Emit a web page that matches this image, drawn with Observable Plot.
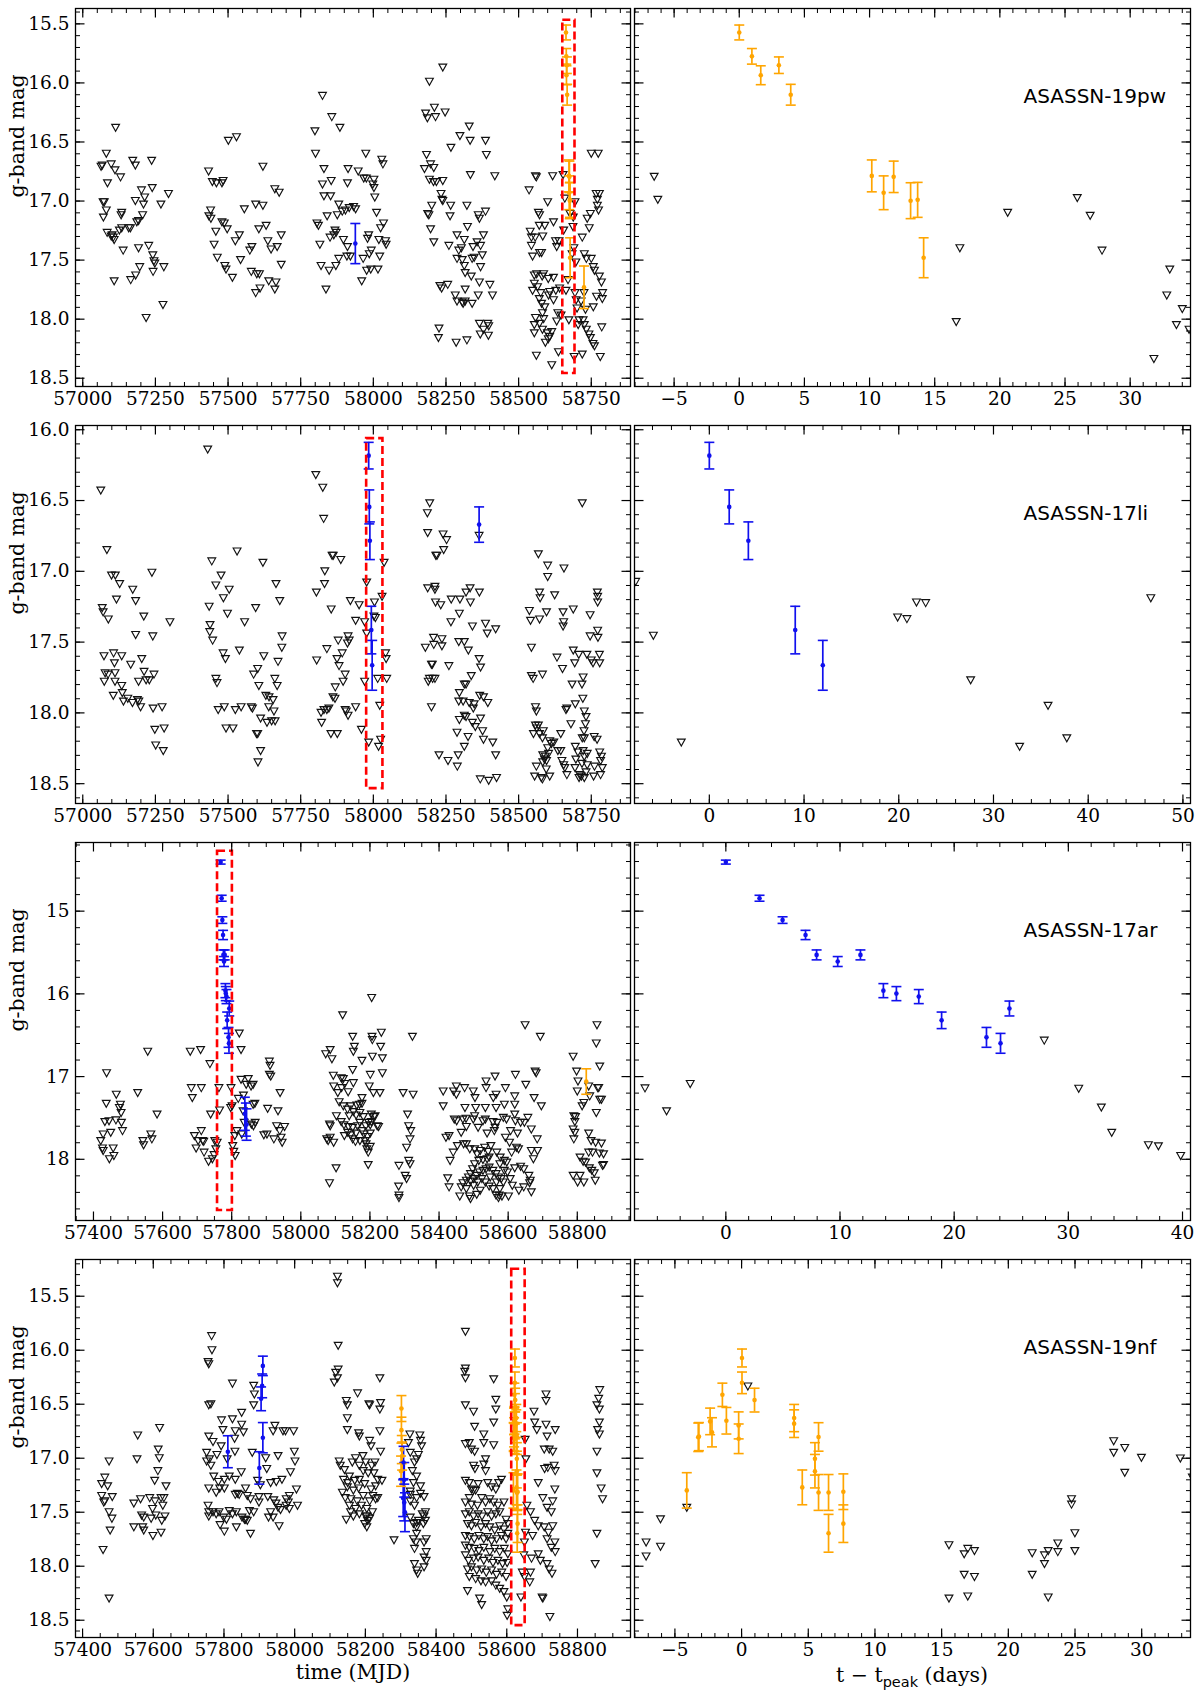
<!DOCTYPE html>
<html><head><meta charset="utf-8">
<script src="https://cdn.jsdelivr.net/npm/d3@7"></script>
<script src="https://cdn.jsdelivr.net/npm/@observablehq/plot@0.6"></script>
<style>
body{margin:0;background:#fff;}
#wrap{position:relative;width:1201px;height:1697px;background:#fff;}
#wrap svg{position:absolute;overflow:visible;}
</style></head><body><div id="wrap"></div>
<script>
// ---------------- DATA ----------------
// ASASSN-19pw
const tpeak19pw = 58663;
const lim19pw = [[57067,16.70],[57063,16.71],[57081,16.60],[57098,16.69],[57085,16.85],[57113,16.38],[57111,16.74],[57130,16.80],[57070,17.01],[57074,17.01],[57081,17.08],[57071,17.14],[57084,17.27],[57101,17.29],[57105,17.31],[57108,17.33],[57098,17.30],[57134,17.10],[57132,17.12],[57126,17.25],[57134,17.23],[57139,17.42],[57158,17.23],[57164,17.23],[57172,16.66],[57181,16.70],[57181,17.00],[57186,17.18],[57192,17.17],[57206,17.12],[57202,16.91],[57213,16.97],[57209,17.03],[57237,16.66],[57239,16.89],[57192,17.40],[57196,17.56],[57227,17.38],[57241,17.46],[57245,17.51],[57248,17.53],[57242,17.60],[57279,17.56],[57295,16.94],[57269,17.03],[57165,17.67],[57182,17.63],[57108,17.68],[57276,17.88],[57218,17.99],
[57433,16.75],[57501,16.49],[57529,16.46],[57446,16.84],[57460,16.85],[57479,16.85],[57483,16.83],[57440,17.08],[57434,17.13],[57441,17.15],[57479,17.18],[57487,17.19],[57458,17.26],[57497,17.24],[57452,17.37],[57463,17.48],[57489,17.55],[57493,17.58],[57515,17.65],[57525,17.34],[57539,17.29],[57556,17.07],[57543,17.50],[57582,17.39],[57575,17.42],[57595,17.03],[57620,17.04],[57620,16.71],[57606,17.24],[57631,17.21],[57637,17.34],[57648,17.41],[57661,16.90],[57676,16.93],[57669,17.39],[57683,17.29],[57683,17.54],[57580,17.60],[57599,17.62],[57608,17.62],[57610,17.74],[57595,17.78],[57640,17.68],[57661,17.75],[57665,17.69],
[57825,16.11],[57857,16.29],[57885,16.38],[57799,16.41],[57801,16.60],[57830,16.73],[57825,16.86],[57855,16.83],[57830,16.96],[57853,16.96],[57913,16.73],[57911,16.85],[57948,16.75],[57974,16.60],[57967,16.81],[57976,16.81],[58002,16.82],[57998,16.86],[58002,16.89],[58005,16.97],[58029,16.65],[58033,16.69],[57881,17.03],[57876,17.12],[57893,17.09],[57904,17.08],[57917,17.06],[57932,17.05],[57939,17.07],[57806,17.19],[57811,17.21],[57841,17.13],[57872,17.27],[57868,17.25],[57864,17.29],[57851,17.31],[57816,17.37],[57897,17.33],[57911,17.39],[57909,17.47],[57921,17.47],[57881,17.49],[57871,17.55],[57820,17.55],[57848,17.59],[57837,17.75],[57965,17.49],[57984,17.29],[57980,17.32],[57986,17.45],[57993,17.42],[57977,17.59],[57991,17.58],[58016,17.58],[58022,17.47],[57960,17.68],[58011,17.10],[58035,17.19],[58042,17.34],[58044,17.37],[58025,17.23],[58019,17.33],
[58239,15.87],[58193,15.99],[58210,16.21],[58180,16.26],[58186,16.30],[58214,16.29],[58247,16.25],[58330,16.37],[58298,16.45],[58333,16.49],[58386,16.49],[58389,16.61],[58267,16.55],[58183,16.61],[58197,16.69],[58208,16.72],[58176,16.73],[58193,16.82],[58207,16.84],[58217,16.84],[58239,16.83],[58334,16.78],[58418,16.79],[58233,16.94],[58236,16.99],[58239,17.00],[58266,17.04],[58322,17.04],[58201,17.04],[58187,17.11],[58191,17.12],[58386,17.09],[58361,17.12],[58365,17.15],[58264,17.13],[58197,17.24],[58324,17.22],[58208,17.35],[58260,17.38],[58288,17.29],[58313,17.33],[58294,17.42],[58303,17.40],[58343,17.39],[58357,17.35],[58369,17.38],[58375,17.46],[58379,17.29],[58340,17.49],[58347,17.48],[58288,17.49],[58306,17.50],[58313,17.55],[58369,17.56],[58316,17.61],[58337,17.64],[58365,17.69],[58229,17.72],[58235,17.74],[58256,17.71],[58401,17.71],[58316,17.75],[58282,17.80],[58361,17.80],[58410,17.80],[58288,17.85],[58306,17.86],[58316,17.85],[58340,17.87],[58309,17.87],[58365,18.04],[58394,18.04],[58379,18.09],[58397,18.06],[58226,18.08],[58224,18.16],[58322,18.18],[58368,18.13],[58396,18.14],[58285,18.20],
[58536,16.91],[58558,16.79],[58561,16.80],[58617,16.79],[58653,16.78],[58659,16.98],[58600,17.01],[58568,17.10],[58572,17.12],[58620,17.18],[58540,17.26],[58544,17.31],[58557,17.31],[58571,17.21],[58590,17.21],[58583,17.30],[58544,17.38],[58548,17.47],[58572,17.44],[58579,17.44],[58627,17.34],[58631,17.39],[58639,17.34],[58655,17.25],[58554,17.63],[58562,17.62],[58586,17.62],[58581,17.64],[58602,17.66],[58620,17.65],[58554,17.70],[58565,17.73],[58548,17.76],[58576,17.78],[58571,17.83],[58579,17.87],[58590,17.90],[58582,17.95],[58603,17.80],[58607,17.77],[58628,17.76],[58641,17.74],[58620,17.84],[58635,17.95],[58631,18.02],[58554,18.05],[58558,17.99],[58586,18.00],[58572,18.04],[58554,18.12],[58582,18.09],[58599,18.12],[58614,18.11],[58607,18.15],[58602,18.17],[58592,18.20],[58646,17.97],[58637,18.28],[58561,18.31],[58614,18.39],
[58677,17.11],[58688,17.14],[58694,17.01],[58687,17.22],[58690,17.40],[58684,17.45],[58697,17.52],[58694,17.78],[58698,17.84],[58701,17.91],[58708,18.01],[58705,18.05],[58726,17.45],[58733,17.49],[58736,17.15],[58747,17.11],[58719,17.31],[58743,17.23],[58750,17.49],[58757,17.56],[58761,17.59],[58767,16.94],[58771,16.99],[58778,16.94],[58771,17.04],[58775,17.08],[58750,16.60],[58774,16.60],[58778,17.64],[58785,17.69],[58789,17.78],[58788,17.83],[58768,17.81],[58757,17.90],[58725,17.78],[58715,17.85],[58730,17.92],[58722,18.01],[58726,18.05],[58733,18.09],[58742,18.13],[58747,18.16],[58756,18.21],[58761,18.23],[58786,18.07],[58781,18.32],[58719,18.30],[58691,18.32],[58673,18.01],[58670,17.67],[58663,17.76]];
const limT19pw = [[-6.53,16.795],[-6.25,16.99],[16.65,18.025],[16.93,17.40],[20.6,17.10],[25.94,16.975],[26.93,17.125],[27.84,17.42],[31.82,18.337],[33.04,17.58],[32.81,17.80],[34.0,17.915],[33.55,18.05],[34.52,18.09]];
// [t, mag, err, band]
const detT19pw = [[0,15.573,0.063,"o"],[0.97,15.775,0.066,"o"],[1.65,15.935,0.08,"o"],[3.04,15.85,0.07,"o"],[3.95,16.10,0.088,"o"],[10.17,16.787,0.135,"o"],[11.08,16.93,0.143,"o"],[11.85,16.795,0.133,"o"],[13.15,16.997,0.152,"o"],[13.69,16.99,0.148,"o"],[14.15,17.48,0.169,"o"]];
const detExtra19pw = [[57938,17.36,0.17,"b"],[58725,17.73,0.18,"o"]];
const box19pw = [58652, 58694, 15.47, 18.46];

// ASASSN-17li
const tpeak17li = 57984;
const lim17li = [[57062,16.43],[57083,16.85],[57099,17.03],[57112,17.03],[57127,17.09],[57116,17.20],[57067,17.26],[57070,17.29],[57088,17.34],[57172,17.13],[57182,17.21],[57210,17.32],[57238,17.01],[57182,17.45],[57241,17.46],[57106,17.58],[57073,17.60],[57134,17.60],[57109,17.65],[57077,17.72],[57087,17.73],[57074,17.78],[57111,17.72],[57111,17.78],[57165,17.66],[57203,17.62],[57211,17.71],[57192,17.78],[57218,17.77],[57229,17.77],[57245,17.73],[57134,17.81],[57136,17.86],[57105,17.88],[57155,17.90],[57140,17.92],[57171,17.93],[57188,17.91],[57193,17.92],[57199,17.96],[57242,17.97],[57273,17.96],[57248,18.12],[57280,18.11],[57251,18.23],[57277,18.27],[57300,17.36],
[57430,16.14],[57531,16.86],[57620,16.94],[57444,16.93],[57476,17.03],[57458,17.10],[57504,17.13],[57484,17.19],[57435,17.25],[57498,17.30],[57595,17.26],[57557,17.36],[57438,17.38],[57437,17.43],[57447,17.49],[57665,17.09],[57678,17.21],[57686,17.46],[57685,17.54],[57539,17.56],[57483,17.58],[57491,17.62],[57623,17.60],[57602,17.69],[57588,17.73],[57672,17.64],[57458,17.76],[57462,17.79],[57606,17.81],[57661,17.76],[57669,17.81],[57630,17.88],[57641,17.89],[57655,17.91],[57466,17.98],[57487,17.96],[57525,17.98],[57545,17.96],[57580,17.96],[57584,17.97],[57640,17.96],[57658,17.99],[57662,18.06],[57634,18.07],[57612,18.04],[57493,18.11],[57517,18.11],[57598,18.15],[57602,18.15],[57612,18.27],[57603,18.35],[57650,18.06],
[57802,16.32],[57826,16.41],[57829,16.63],[57858,16.89],[57862,16.89],[57888,16.92],[57833,17.00],[57832,17.09],[57804,17.15],[57977,17.08],[57921,17.21],[57951,17.24],[57855,17.27],[57939,17.35],[57970,17.36],[58004,17.22],[58007,17.33],[58002,17.32],[58030,17.18],[58037,16.94],[57913,17.46],[57917,17.49],[57911,17.51],[57879,17.49],[57840,17.55],[57893,17.58],[57875,17.62],[57882,17.67],[57805,17.63],[57903,17.73],[57869,17.82],[57896,17.78],[57977,17.44],[58042,17.58],[58044,17.62],[58046,17.76],[58015,17.76],[57970,17.78],[57861,17.89],[57868,17.90],[57830,17.98],[57820,18.00],[57840,17.98],[57847,17.97],[57903,17.98],[57907,17.99],[57913,18.02],[57939,17.96],[57822,18.07],[57854,18.15],[57876,18.15],[57959,18.12],[58022,17.95],[57984,18.21],[58025,18.19],[58018,18.24],
[58194,16.52],[58186,16.59],[58187,16.73],[58240,16.74],[58252,16.78],[58242,16.85],[58215,16.89],[58219,16.89],[58364,16.75],[58187,17.12],[58212,17.11],[58212,17.13],[58268,17.20],[58298,17.20],[58334,17.22],[58319,17.15],[58333,17.12],[58365,17.15],[58214,17.22],[58232,17.24],[58296,17.30],[58267,17.36],[58341,17.39],[58386,17.37],[58392,17.44],[58421,17.41],[58179,17.54],[58207,17.47],[58208,17.52],[58236,17.48],[58236,17.53],[58294,17.50],[58313,17.50],[58327,17.56],[58260,17.67],[58364,17.62],[58369,17.68],[58337,17.74],[58200,17.66],[58203,17.66],[58193,17.76],[58204,17.76],[58212,17.76],[58189,17.78],[58200,17.96],[58313,17.80],[58319,17.80],[58296,17.86],[58294,17.92],[58309,17.92],[58330,17.93],[58347,17.94],[58366,17.88],[58379,17.89],[58394,17.93],[58344,17.97],[58296,18.05],[58313,18.02],[58319,18.03],[58341,18.07],[58351,18.10],[58369,18.04],[58288,18.14],[58326,18.17],[58376,18.13],[58379,18.19],[58411,18.21],[58313,18.24],[58226,18.30],[58292,18.30],[58257,18.34],[58289,18.38],[58421,18.30],[58368,18.47],[58397,18.48],[58424,18.46],
[58568,16.88],[58600,16.96],[58656,16.98],[58600,17.04],[58572,17.15],[58574,17.19],[58624,17.17],[58688,17.27],[58537,17.28],[58541,17.35],[58572,17.34],[58596,17.29],[58653,17.29],[58655,17.36],[58653,17.39],[58746,17.31],[58771,17.15],[58772,17.18],[58772,17.22],[58746,17.46],[58772,17.42],[58773,17.47],[58544,17.54],[58632,17.61],[58651,17.69],[58688,17.56],[58707,17.59],[58735,17.59],[58750,17.63],[58756,17.65],[58693,17.65],[58778,17.59],[58779,17.65],[58544,17.74],[58550,17.76],[58582,17.73],[58684,17.80],[58722,17.75],[58718,17.80],[58721,17.90],[58695,17.94],[58558,17.96],[58561,17.99],[58663,17.98],[58666,17.97],[58726,17.99],[58732,18.03],[58730,18.08],[58725,18.13],[58680,18.08],[58558,18.09],[58562,18.11],[58568,18.09],[58551,18.15],[58572,18.15],[58585,18.13],[58582,18.18],[58645,18.15],[58607,18.20],[58621,18.21],[58613,18.22],[58635,18.27],[58600,18.25],[58583,18.30],[58592,18.31],[58603,18.29],[58645,18.27],[58695,18.24],[58704,18.28],[58719,18.18],[58726,18.18],[58722,18.27],[58736,18.29],[58760,18.17],[58770,18.19],[58779,18.28],[58785,18.31],[58782,18.34],[58589,18.33],[58583,18.35],[58596,18.34],[58595,18.40],[58561,18.38],[58649,18.34],[58655,18.37],[58659,18.39],[58607,18.45],[58555,18.45],[58578,18.46],[58582,18.47],[58666,18.44],[58694,18.39],[58708,18.46],[58726,18.46],[58732,18.42],[58758,18.45],[58782,18.44],[58788,18.39],[58761,18.38],[58736,18.37],[58718,18.36],[58726,18.31],[58697,18.33],[58716,18.45],[58710,18.44],[58719,16.52]];
const limT17li = [[-7.78,17.075],[-5.91,17.455],[-2.96,18.21],[19.88,17.326],[20.86,17.338],[21.87,17.22],[22.84,17.225],[27.59,17.77],[32.76,18.24],[35.76,17.95],[37.74,18.18],[46.61,17.19]];
const detT17li = [[0,16.183,0.094,"b"],[2.1,16.545,0.12,"b"],[4.12,16.784,0.133,"b"],[9.07,17.415,0.168,"b"],[11.98,17.664,0.176,"b"]];
const detExtra17li = [[58364,16.67,0.125,"b"]];
const box17li = [57977, 58033, 16.063, 18.535];

// ASASSN-17ar
const tpeak17ar = 57768;
const lim17ar = [[57438,16.96],[57466,17.22],[57478,17.34],[57475,17.38],[57480,17.44],[57437,17.33],[57433,17.55],[57445,17.54],[57465,17.53],[57481,17.56],[57484,17.66],[57428,17.70],[57450,17.68],[57421,17.78],[57426,17.87],[57428,17.90],[57457,17.87],[57459,17.96],[57446,18.00],
[57557,16.70],[57528,17.20],[57584,17.46],[57543,17.78],[57545,17.83],[57566,17.70],[57569,17.76],
[57680,16.70],[57710,16.68],[57737,16.85],[57683,17.14],[57686,17.26],[57712,17.14],[57763,17.14],[57765,17.41],[57739,17.46],[57692,17.72],[57697,17.87],[57703,17.78],[57716,17.78],[57720,17.92],[57712,17.66],[57719,17.79],[57733,18.03],[57744,18.00],[57749,17.95],[57751,17.78],[57758,17.80],[57754,17.88],[57798,17.14],[57801,17.36],[57803,17.84],[57806,17.91],[57810,17.96],[57822,16.48],[57827,16.68],[57827,17.04],[57842,17.10],[57848,17.03],[57856,17.12],[57862,17.10],[57862,17.34],[57819,17.27],[57834,17.23],[57867,17.33],[57833,17.42],[57836,17.56],[57829,17.70],[57815,17.66],[57863,17.60],[57857,17.58],[57809,17.72],[57797,17.38],
[57909,16.82],[57911,16.87],[57909,16.98],[57913,17.00],[57940,17.20],[57904,17.39],[57934,17.42],[57893,17.71],[57902,17.70],[57930,17.60],[57939,17.66],[57943,17.74],[57953,17.61],[57922,17.76],[57946,17.80],[57868,17.56],
[58072,16.73],[58085,16.68],[58090,16.79],[58121,16.26],[58150,16.52],[58155,16.64],[58152,16.70],[58177,16.81],[58205,16.05],[58206,16.52],[58207,16.56],[58233,16.47],[58231,16.64],[58236,16.78],[58207,16.76],[58150,16.92],[58236,16.96],[58094,16.99],[58117,17.02],[58123,17.03],[58127,17.09],[58118,17.14],[58095,17.12],[58107,17.20],[58137,17.19],[58152,17.08],[58201,16.98],[58210,17.20],[58229,17.20],[58198,17.12],[58177,17.26],[58111,17.31],[58123,17.36],[58135,17.40],[58144,17.36],[58162,17.35],[58170,17.34],[58177,17.33],[58152,17.43],[58140,17.48],[58160,17.47],[58171,17.44],[58181,17.49],[58204,17.46],[58211,17.49],[58215,17.48],[58103,17.48],[58083,17.58],[58085,17.60],[58117,17.55],[58125,17.59],[58138,17.61],[58150,17.62],[58164,17.60],[58171,17.56],[58188,17.60],[58196,17.56],[58201,17.59],[58204,17.55],[58221,17.60],[58225,17.61],[58136,17.68],[58144,17.71],[58160,17.69],[58177,17.66],[58183,17.70],[58193,17.73],[58201,17.69],[58171,17.78],[58189,17.82],[58191,17.88],[58195,17.92],[58201,17.85],[58186,17.78],[58158,17.79],[58150,17.76],[58126,17.72],[58085,17.74],[58075,17.76],[58079,17.78],[58095,17.80],[58083,18.29],[58102,18.11],[58195,18.07],
[58323,16.52],[58296,17.20],[58325,17.22],[58309,17.46],[58312,17.60],[58318,17.66],[58316,17.76],[58306,17.86],[58312,18.02],[58316,18.06],[58284,18.08],[58302,18.20],[58306,18.24],[58283,18.33],[58284,18.44],[58284,18.47],
[58412,17.18],[58412,17.36],[58442,17.18],[58450,17.12],[58450,17.22],[58474,17.14],[58499,17.18],[58504,17.26],[58536,17.06],[58536,17.14],[58562,17.00],[58557,17.26],[58565,17.22],[58592,17.14],[58619,17.24],[58621,16.98],[58651,17.10],[58649,16.38],[58678,16.94],[58681,16.96],[58693,16.52],[58675,17.26],[58696,17.36],[58475,17.38],[58506,17.38],[58534,17.38],[58565,17.38],[58589,17.34],[58619,17.34],[58444,17.52],[58451,17.54],[58469,17.52],[58478,17.51],[58499,17.52],[58503,17.48],[58527,17.54],[58534,17.52],[58556,17.55],[58568,17.56],[58586,17.50],[58595,17.52],[58621,17.54],[58647,17.56],[58657,17.50],[58619,17.46],[58562,17.62],[58560,17.66],[58539,17.69],[58513,17.62],[58479,17.61],[58464,17.68],[58429,17.72],[58420,17.74],[58607,17.66],[58627,17.69],[58636,17.56],[58667,17.64],[58667,17.90],[58684,17.76],[58685,17.90],[58673,18.00],[58660,18.20],[58630,17.88],[58624,17.86],[58636,18.09],[58645,18.12],[58662,18.29],[58667,18.40],[58664,18.26],[58645,18.34],[58631,18.38],[58612,18.32],[58619,18.11],[58606,18.24],[58598,18.16],[58589,18.14],[58586,18.28],[58574,18.44],[58572,18.47],[58582,18.45],[58565,18.44],[58601,18.45],[58576,18.36],[58556,18.36],[58545,18.33],[58534,18.28],[58519,18.38],[58509,18.43],[58491,18.48],[58488,18.45],[58460,18.45],[58429,18.34],[58425,18.23],[58432,18.02],[58441,17.92],[58453,17.84],[58471,17.82],[58479,17.82],[58489,17.88],[58503,17.88],[58510,17.94],[58519,17.90],[58532,17.86],[58542,17.91],[58550,17.84],[58545,17.98],[58539,18.00],[58527,18.01],[58515,18.02],[58503,18.06],[58497,18.12],[58491,18.18],[58485,18.22],[58479,18.26],[58491,18.27],[58500,18.24],[58509,18.20],[58517,18.16],[58527,18.14],[58536,18.12],[58545,18.10],[58556,18.14],[58565,18.18],[58572,18.22],[58580,18.24],[58566,18.28],[58548,18.22],[58524,18.24],[58512,18.28],[58500,18.32],[58479,18.36],[58469,18.29],[58464,18.34],[58576,18.06],[58589,18.02],[58596,18.04],[58610,17.92],[58567,17.92],[58577,17.98],[58604,17.80],[58592,17.74],
[58788,16.76],[58798,16.94],[58802,17.06],[58800,17.18],[58836,17.24],[58833,17.12],[58857,16.38],[58855,16.60],[58865,16.88],[58859,17.14],[58862,17.14],[58865,17.28],[58870,17.28],[58855,17.44],[58819,17.32],[58814,17.36],[58795,17.49],[58790,17.48],[58793,17.55],[58788,17.64],[58793,17.68],[58833,17.69],[58840,17.78],[58853,17.80],[58870,17.81],[58790,17.76],[58833,17.92],[58844,17.92],[58864,17.93],[58876,17.94],[58808,17.98],[58817,18.03],[58824,18.04],[58835,18.11],[58842,18.14],[58849,18.17],[58788,18.20],[58808,18.20],[58819,18.28],[58852,18.26],[58873,18.08],[58876,18.07],[58801,18.28]];
const limT17ar = [[-7.08,17.143],[-5.19,17.42],[-3.12,17.09],[27.89,16.566],[30.91,17.147],[32.89,17.375],[33.8,17.68],[37.01,17.83],[37.89,17.843],[39.84,17.96]];
const detT17ar = [[0,14.407,0.024,"b"],[2.95,14.844,0.036,"b"],[4.97,15.108,0.04,"b"],[6.98,15.288,0.056,"b"],[7.95,15.529,0.06,"b"],[9.8,15.609,0.06,"b"],[11.79,15.529,0.06,"b"],[13.8,15.961,0.085,"b"],[14.94,15.997,0.085,"b"],[16.9,16.033,0.085,"b"],[18.9,16.32,0.1,"b"],[22.83,16.526,0.12,"b"],[24.06,16.598,0.12,"b"],[24.84,16.177,0.09,"b"]];
const detExtra17ar = [[57838,17.45,0.2,"b"],[57841,17.52,0.2,"b"],[57843,17.58,0.19,"b"],[58826,17.06,0.154,"o"]];
const box17ar = [57759, 57802, 14.275, 18.62];

// ASASSN-19nf
const tpeak19nf = 58623;
const lim19nf = [[57475,17.03],[57463,17.18],[57454,17.24],[57471,17.26],[57454,17.35],[57463,17.40],[57484,17.36],[57475,17.50],[57483,17.56],[57478,17.67],[57458,17.85],[57475,18.30],[57460,17.41],
[57556,16.79],[57554,17.01],[57618,16.72],[57614,16.92],[57617,17.00],[57613,17.12],[57604,17.21],[57636,17.26],[57545,17.42],[57564,17.38],[57567,17.53],[57573,17.55],[57545,17.64],[57570,17.64],[57573,17.67],[57590,17.37],[57605,17.40],[57598,17.47],[57594,17.56],[57607,17.53],[57622,17.37],[57630,17.37],[57627,17.44],[57633,17.54],[57624,17.58],[57622,17.69],[57599,17.72],
[57755,16.11],[57757,16.13],[57765,15.87],[57766,16.00],[57757,16.51],[57763,16.50],[57824,16.31],[57884,16.33],[57886,16.41],[57884,16.51],[57850,16.58],[57824,16.64],[57793,16.65],[57832,16.75],[57855,16.76],[57850,16.69],[57797,16.74],[57757,16.80],[57830,16.82],[57769,16.85],[57751,16.95],[57792,16.89],[57780,16.97],[57759,17.01],[57751,17.03],[57809,17.01],[57831,16.94],[57880,16.95],[57918,17.00],[57944,16.70],[57939,16.75],[57967,16.75],[57974,16.75],[57997,16.75],[57999,16.94],[58001,17.03],[57953,16.98],[57988,17.13],[57964,17.20],[57948,17.22],[57921,17.10],[57932,17.23],[57903,17.25],[57895,17.21],[57849,17.13],[57832,17.20],[57815,17.17],[57801,17.20],[57784,17.22],[57771,17.17],[57763,17.07],[57757,17.28],[57778,17.32],[57788,17.28],[57801,17.28],[57832,17.34],[57838,17.33],[57843,17.34],[57861,17.28],[57866,17.35],[57875,17.38],[57899,17.36],[57924,17.36],[57941,17.39],[57947,17.42],[57976,17.38],[57985,17.35],[58005,17.29],[58008,17.44],[57982,17.41],[57755,17.44],[57757,17.50],[57757,17.54],[57769,17.50],[57778,17.52],[57786,17.50],[57799,17.55],[57807,17.57],[57815,17.49],[57824,17.52],[57835,17.50],[57851,17.55],[57861,17.57],[57872,17.49],[57884,17.50],[57899,17.41],[57932,17.50],[57939,17.55],[57953,17.46],[57960,17.48],[57976,17.44],[57985,17.47],[57789,17.62],[57801,17.68],[57835,17.64],[57858,17.57],[57866,17.58],[57875,17.70],[57956,17.63],[57926,17.55],
[58121,15.32],[58121,15.38],[58123,15.96],[58116,16.21],[58121,16.26],[58123,16.18],[58112,16.30],[58146,16.47],[58149,16.51],[58149,16.63],[58149,16.74],[58178,16.40],[58181,16.77],[58183,16.80],[58210,16.50],[58212,16.51],[58241,16.26],[58243,16.49],[58241,16.55],[58241,16.75],[58212,16.84],[58216,16.89],[58243,16.94],[58126,17.03],[58129,17.07],[58141,17.11],[58163,17.04],[58172,17.00],[58193,16.98],[58183,17.07],[58201,17.04],[58218,17.07],[58227,17.04],[58224,17.14],[58208,17.14],[58194,17.12],[58155,17.17],[58138,17.20],[58150,17.23],[58170,17.21],[58183,17.20],[58235,17.20],[58247,17.21],[58229,17.26],[58216,17.29],[58198,17.24],[58181,17.28],[58166,17.30],[58149,17.27],[58135,17.32],[58143,17.37],[58159,17.38],[58177,17.40],[58194,17.35],[58212,17.40],[58221,17.35],[58229,17.38],[58235,17.37],[58155,17.44],[58172,17.47],[58189,17.44],[58204,17.47],[58220,17.50],[58158,17.50],[58166,17.54],[58183,17.52],[58201,17.54],[58146,17.57],[58198,17.61],[58204,17.64],[58206,17.58],[58212,17.56],[58204,17.54],
[58281,17.76],[58326,16.78],[58354,16.79],[58356,16.84],[58359,16.89],[58327,16.95],[58350,16.97],[58339,17.04],[58345,17.01],[58333,17.12],[58345,17.17],[58336,17.23],[58356,17.26],[58356,17.33],[58327,17.34],[58327,17.40],[58345,17.37],[58339,17.44],[58366,17.36],[58370,17.50],[58361,17.52],[58366,17.54],[58327,17.55],[58336,17.61],[58345,17.60],[58350,17.58],[58364,17.61],[58370,17.58],[58345,17.64],[58345,17.70],[58336,17.75],[58343,17.78],[58366,17.78],[58372,17.75],[58339,17.84],[58372,17.87],[58366,17.92],[58372,17.95],[58366,18.01],[58345,18.04],[58339,17.98],[58348,18.07],[58327,17.31],[58322,16.86],
[58483,15.83],[58483,16.17],[58481,16.20],[58483,16.26],[58483,16.51],[58506,16.57],[58563,16.27],[58569,16.46],[58569,16.55],[58509,16.71],[58563,16.67],[58483,16.87],[58494,16.86],[58500,16.92],[58509,16.94],[58535,16.78],[58535,16.86],[58563,16.88],[58540,17.01],[58535,17.06],[58506,17.07],[58510,17.10],[58540,17.12],[58483,17.21],[58494,17.23],[58500,17.29],[58506,17.30],[58512,17.30],[58519,17.24],[58546,17.23],[58557,17.27],[58569,17.29],[58577,17.23],[58585,17.20],[58483,17.41],[58494,17.37],[58500,17.43],[58517,17.44],[58529,17.37],[58540,17.41],[58552,17.38],[58563,17.41],[58575,17.44],[58592,17.41],[58483,17.52],[58494,17.50],[58506,17.54],[58519,17.52],[58530,17.54],[58546,17.50],[58557,17.54],[58569,17.52],[58580,17.50],[58598,17.57],[58489,17.61],[58500,17.63],[58512,17.60],[58527,17.64],[58540,17.61],[58552,17.64],[58566,17.67],[58580,17.63],[58592,17.66],[58603,17.61],[58483,17.72],[58495,17.73],[58508,17.75],[58521,17.72],[58535,17.75],[58546,17.73],[58557,17.77],[58571,17.75],[58585,17.72],[58598,17.75],[58603,17.70],[58483,17.81],[58494,17.83],[58508,17.84],[58521,17.86],[58535,17.83],[58552,17.87],[58566,17.84],[58580,17.87],[58593,17.84],[58603,17.89],[58483,17.90],[58492,17.95],[58506,17.93],[58519,17.92],[58535,17.95],[58549,17.93],[58561,17.97],[58575,17.95],[58588,17.98],[58601,17.97],[58489,18.03],[58500,18.01],[58515,18.04],[58529,18.03],[58542,18.06],[58557,18.04],[58571,18.08],[58586,18.06],[58598,18.10],[58494,18.10],[58512,18.12],[58527,18.14],[58540,18.15],[58557,18.14],[58569,18.18],[58580,18.21],[58592,18.24],[58489,18.23],[58523,18.30],[58529,18.36],[58600,18.29],[58603,18.40],[58601,18.46],
[58650,18.10],[58640,18.29],[58644,18.06],[58648,17.90],[58650,17.78],[58653,17.69],[58657,17.44],[58667,17.50],[58673,17.72],[58679,17.58],[58670,17.93],[58667,18.06],[58665,18.15],[58654,17.01],[58652,16.83],[58679,16.67],[58711,16.41],[58711,16.47],[58711,16.69],[58685,16.74],[58677,16.57],[58714,16.80],[58720,16.92],[58706,16.92],[58730,16.94],[58737,16.74],[58707,17.10],[58716,17.09],[58734,17.07],[58737,17.12],[58689,17.23],[58702,17.37],[58714,17.46],[58730,17.40],[58736,17.29],[58726,17.50],[58689,17.63],[58706,17.64],[58718,17.69],[58730,17.63],[58714,17.75],[58736,17.78],[58726,17.83],[58737,17.87],[58689,17.89],[58714,17.98],[58695,17.95],[58720,18.03],[58728,18.07],[58702,18.30],[58700,18.29],[58722,18.47],
[58863,16.37],[58860,16.45],[58855,16.51],[58862,16.55],[58862,16.67],[58857,16.74],[58862,16.78],[58855,16.94],[58855,17.14],[58867,17.28],[58871,17.38],[58855,17.70],[58850,17.98]];
const limT19nf = [[-7.16,17.78],[-7.16,17.91],[-6.08,17.566],[-6.08,17.82],[-4.11,17.46],[0.47,16.336],[15.55,17.806],[15.55,18.30],[16.69,17.89],[16.96,17.84],[17.46,17.86],[16.69,18.08],[17.46,18.10],[16.96,18.28],[21.79,17.88],[21.79,18.08],[22.71,17.90],[22.71,17.98],[22.99,17.86],[22.99,18.29],[23.71,17.79],[23.71,17.87],[24.74,17.38],[24.74,17.43],[24.99,17.695],[24.99,17.86],[27.9,16.843],[27.9,16.95],[28.73,16.905],[28.73,17.135],[29.98,16.997],[32.9,17.003],[33.8,17.18]];
const detT19nf = [[-4.11,17.298,0.164,"o"],[-3.25,16.806,0.132,"o"],[-3.2,16.80,0.13,"o"],[-2.36,16.659,0.123,"o"],[-2.22,16.76,0.135,"o"],[-1.44,16.413,0.108,"o"],[-1.14,16.653,0.123,"o"],[-0.22,16.696,0.125,"o"],[-0.22,16.82,0.137,"o"],[0.03,16.072,0.083,"o"],[0.03,16.302,0.1,"o"],[0.97,16.462,0.11,"o"],[3.94,16.628,0.126,"o"],[3.94,16.68,0.128,"o"],[4.55,17.27,0.161,"o"],[5.5,17.006,0.15,"o"],[5.5,17.12,0.155,"o"],[5.77,16.803,0.132,"o"],[5.77,17.317,0.166,"o"],[6.52,17.317,0.166,"o"],[6.52,17.695,0.175,"o"],[7.63,17.31,0.165,"o"],[7.63,17.606,0.174,"o"]];
const detExtra19nf = [[57811,16.94,0.148,"b"],[57910,16.145,0.09,"b"],[57908,16.33,0.11,"b"],[57905,16.45,0.11,"b"],[57910,16.81,0.14,"b"],[57900,17.09,0.15,"b"],[58308,17.04,0.15,"b"],[58310,17.20,0.16,"b"],[58307,17.37,0.17,"b"],[58312,17.50,0.18,"b"],[58310,17.41,0.17,"b"],[58302,16.54,0.12,"o"],[58302,16.74,0.12,"o"],[58303,16.92,0.13,"o"],[58304,16.98,0.13,"o"],[58301,17.12,0.14,"o"]];
const box19nf = [58614, 58652, 15.25, 18.55];

// axis ticks
const mjdTicksA = [57000,57250,57500,57750,58000,58250,58500,58750];
const mjdTicksB = [57400,57600,57800,58000,58200,58400,58600,58800];
const magTicks05 = [15.5,16.0,16.5,17.0,17.5,18.0,18.5];
const magTicks1 = [15,16,17,18];
const tTicks5 = [-5,0,5,10,15,20,25,30];
const tTicks10 = [0,10,20,30,40,50];

// ---------------- RENDERING ----------------
const SERIF = "'DejaVu Serif', 'Liberation Serif', serif";
const SANS = "'DejaVu Sans', sans-serif";
const colorOf = {o: "orange", b: "#1010ee"};
const triDown = {draw(ctx){ const w = 7.8, h = 7; ctx.moveTo(-w/2,-h/2); ctx.lineTo(w/2,-h/2); ctx.lineTo(0,h/2); ctx.closePath(); }};
const capSym = {draw(ctx){ ctx.moveTo(-5,0); ctx.lineTo(5,0); }};
const seg = (dx,dy) => ({draw(ctx){ ctx.moveTo(0,0); ctx.lineTo(dx,dy); }});
function steps(lo, hi, step){ const out=[]; for(let k=Math.ceil(lo/step-1e-9); k*step<=hi+1e-9; k++) out.push(+(k*step).toFixed(6)); return out; }

const wrap = document.getElementById("wrap");
const PH = 378;
const tops = [8, 425, 842, 1259];

function edgeTicks(xs, ys, len, sw){
  const o = {stroke: "black", fill: "none", strokeWidth: sw};
  return [
    Plot.dot(xs, {...o, x: d=>d, frameAnchor: "bottom", symbol: seg(0,-len)}),
    Plot.dot(xs, {...o, x: d=>d, frameAnchor: "top", symbol: seg(0,len)}),
    Plot.dot(ys, {...o, y: d=>d, frameAnchor: "left", symbol: seg(len,0)}),
    Plot.dot(ys, {...o, y: d=>d, frameAnchor: "right", symbol: seg(-len,0)})
  ];
}

function panel(cfg){
  const {left, top, mL, mR, mT, mB, fw, xDom, yDom, xMaj, xMinStep, yMaj, yMinStep, xFmt, yFmt, lims, dets, box, name, showY, bottomLabel} = cfg;
  const inX = v => v >= xDom[0] && v <= xDom[1];
  const inY = v => v >= yDom[0] && v <= yDom[1];
  const xM = xMaj.filter(inX), yM = yMaj.filter(inY);
  const xm = steps(xDom[0], xDom[1], xMinStep), ym = steps(yDom[0], yDom[1], yMinStep);
  const marks = [
    Plot.dot(lims, {x: d=>d[0], y: d=>d[1], symbol: triDown, stroke: "#111", fill: "none", strokeWidth: 1.15, clip: true}),
    Plot.ruleX(dets, {x: d=>d[0], y1: d=>d[1]-d[2], y2: d=>d[1]+d[2], stroke: d=>colorOf[d[3]], strokeWidth: 1.7, clip: true}),
    Plot.dot(dets, {x: d=>d[0], y: d=>d[1]-d[2], symbol: capSym, stroke: d=>colorOf[d[3]], strokeWidth: 1.6, fill: "none", clip: true}),
    Plot.dot(dets, {x: d=>d[0], y: d=>d[1]+d[2], symbol: capSym, stroke: d=>colorOf[d[3]], strokeWidth: 1.6, fill: "none", clip: true}),
    Plot.dot(dets, {x: d=>d[0], y: d=>d[1], r: 2.3, fill: d=>colorOf[d[3]], stroke: "none", clip: true})
  ];
  if (box) marks.push(Plot.rect([box], {x1: d=>d[0], x2: d=>d[1], y1: d=>d[2], y2: d=>d[3], fill: "none", stroke: "red", strokeWidth: 2.6, strokeDasharray: "8,4"}));
  if (name) marks.push(Plot.text([name], {frameAnchor: "top-left", dx: 389, dy: 88, textAnchor: "start", lineAnchor: "middle", fontFamily: SANS, fontSize: 20, fill: "black"}));
  marks.push(...edgeTicks(xM, yM, 9, 1.2));
  marks.push(...edgeTicks(xm, ym, 4.5, 1));
  marks.push(Plot.frame({stroke: "black", strokeWidth: 1.3}));
  marks.push(Plot.axisX(xM, {anchor: "bottom", tickSize: 0, tickPadding: 5, tickFormat: xFmt, label: null, fontSize: 18.5, fontFamily: SERIF, fill: "black"}));
  if (showY) {
    marks.push(Plot.axisY(yM, {anchor: "left", tickSize: 0, tickPadding: 6, tickFormat: yFmt, label: null, fontSize: 18.5, fontFamily: SERIF, fill: "black"}));
    marks.push(Plot.text(["g-band mag"], {frameAnchor: "left", dx: -58, rotate: -90, fontSize: 20.5, fontFamily: SERIF, fill: "black"}));
  }
  if (bottomLabel === "mjd") marks.push(Plot.text(["time (MJD)"], {frameAnchor: "bottom", dy: 41, fontSize: 20.5, fontFamily: SERIF, fill: "black"}));
  const svg = Plot.plot({
    width: mL + fw + mR, height: mT + PH + mB,
    marginLeft: mL, marginRight: mR, marginTop: mT, marginBottom: mB,
    x: {domain: xDom, axis: null},
    y: {domain: yDom, reverse: true, axis: null},
    style: {background: "transparent", overflow: "visible", fontFamily: SERIF, fontSize: "18px", color: "black"},
    marks
  });
  if (bottomLabel === "t") {
    const tx = d3.select(svg).append("text")
      .attr("x", mL + fw/2).attr("y", mT + PH + 45)
      .attr("text-anchor", "middle").attr("fill", "black")
      .style("font-family", SERIF).style("font-size", "20.5px");
    tx.append("tspan").text("t \u2212 t");
    tx.append("tspan").attr("dy", 5).style("font-family", SANS).style("font-size", "14.5px").text("peak");
    tx.append("tspan").attr("dy", -5).text(" (days)");
  }
  svg.style.left = left + "px";
  svg.style.top = top + "px";
  wrap.appendChild(svg);
}

const fmtInt = d3.format("d"), fmt1 = d3.format(".1f");
const shiftDet = (arr, tp) => arr.map(d => [d[0] + tp, d[1], d[2], d[3]]);
const rows = [
  {lims: lim19pw, limT: limT19pw, dets: shiftDet(detT19pw, tpeak19pw).concat(detExtra19pw), detT: detT19pw, box: box19pw, name: "ASASSN-19pw",
   xDom: [56975, 58885], yDom: [15.37, 18.57], xMaj: mjdTicksA, yMaj: magTicks05, yMinStep: 0.1, yFmt: fmt1, tDom: [-8.04, 34.63], tMaj: tTicks5, tMinStep: 1},
  {lims: lim17li, limT: limT17li, dets: shiftDet(detT17li, tpeak17li).concat(detExtra17li), detT: detT17li, box: box17li, name: "ASASSN-17li",
   xDom: [56975, 58885], yDom: [15.97, 18.64], xMaj: mjdTicksA, yMaj: magTicks05, yMinStep: 0.1, yFmt: fmt1, tDom: [-7.9, 50.8], tMaj: tTicks10, tMinStep: 2},
  {lims: lim17ar, limT: limT17ar, dets: shiftDet(detT17ar, tpeak17ar).concat(detExtra17ar), detT: detT17ar, box: box17ar, name: "ASASSN-17ar",
   xDom: [57348, 58954], yDom: [14.17, 18.74], xMaj: mjdTicksB, yMaj: magTicks1, yMinStep: 0.2, yFmt: fmtInt, tDom: [-8.0, 40.7], tMaj: tTicks10, tMinStep: 2},
  {lims: lim19nf, limT: limT19nf, dets: shiftDet(detT19nf, tpeak19nf).concat(detExtra19nf), detT: detT19nf, box: box19nf, name: "ASASSN-19nf",
   xDom: [57380, 58950], yDom: [15.16, 18.66], xMaj: mjdTicksB, yMaj: magTicks05, yMinStep: 0.1, yFmt: fmt1, tDom: [-8.03, 33.66], tMaj: tTicks5, tMinStep: 1}
];

rows.forEach((r, i) => {
  const last = i === rows.length - 1;
  const mT = 10, mB = last ? 60 : 40;
  panel({left: 0, top: tops[i] - mT, mL: 75, mR: 10, mT, mB, fw: 555, xDom: r.xDom, yDom: r.yDom,
    xMaj: r.xMaj, xMinStep: 50, yMaj: r.yMaj, yMinStep: r.yMinStep, xFmt: fmtInt, yFmt: r.yFmt,
    lims: r.lims, dets: r.dets, box: r.box, name: null, showY: true, bottomLabel: last ? "mjd" : null});
  panel({left: 624, top: tops[i] - mT, mL: 10, mR: 11, mT, mB, fw: 556, xDom: r.tDom, yDom: r.yDom,
    xMaj: r.tMaj, xMinStep: r.tMinStep, yMaj: r.yMaj, yMinStep: r.yMinStep, xFmt: fmtInt, yFmt: r.yFmt,
    lims: r.limT, dets: r.detT, box: null, name: r.name, showY: false, bottomLabel: last ? "t" : null});
});
</script></body></html>
